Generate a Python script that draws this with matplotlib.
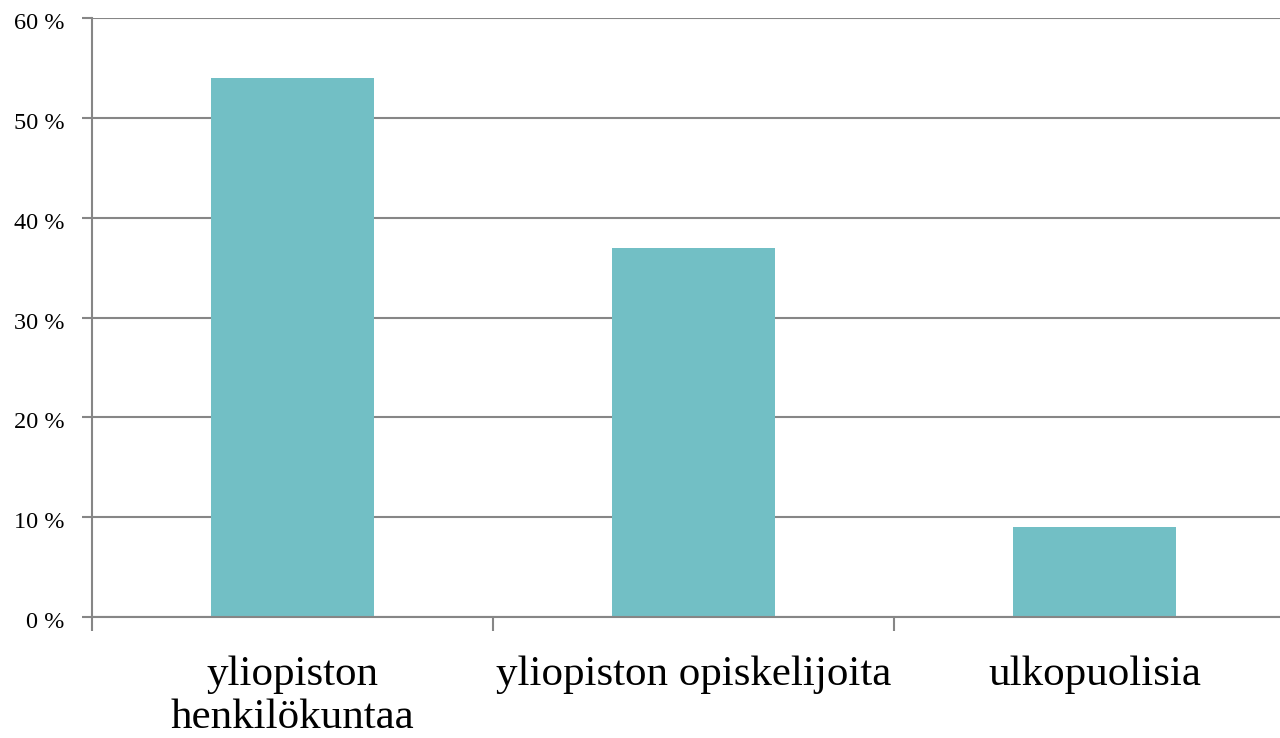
import matplotlib
matplotlib.use("Agg")
import matplotlib.pyplot as plt
from matplotlib.ticker import FixedLocator, NullFormatter
from matplotlib.transforms import ScaledTranslation

categories = ["yliopiston\nhenkilökuntaa", "yliopiston opiskelijoita", "ulkopuolisia"]
values = [54, 37, 9]
y_ticks = [0, 10, 20, 30, 40, 50, 60]
y_labels = ["0 %", "10 %", "20 %", "30 %", "40 %", "50 %", "60 %"]

BAR_COLOR = "#72BFC5"
GRID_COLOR = "#868686"

plt.rcParams["font.family"] = ["Liberation Serif", "DejaVu Serif"]

fig = plt.figure(figsize=(12.8, 7.38), dpi=100)
ax = fig.add_axes([92 / 1280, 1 - 617 / 738, (1295 - 92) / 1280, (617 - 18) / 738])

x = list(range(len(categories)))
ax.bar(x, values, width=0.404, color=BAR_COLOR, zorder=2)

ax.set_xlim(-0.5, len(categories) - 0.5)
ax.set_ylim(0, 60)

ax.set_yticks(y_ticks)
ax.set_yticklabels(y_labels, fontsize=17.5)
ax.yaxis.grid(True, color=GRID_COLOR, linewidth=1.5, zorder=0)
ax.tick_params(axis="y", length=7, width=1.5, color=GRID_COLOR, pad=13)
# labels sit a touch below their gridline in the original
shift = ScaledTranslation(0, -3 / 100, fig.dpi_scale_trans)
for lbl in ax.get_yticklabels():
    lbl.set_transform(lbl.get_transform() + shift)

# category boundaries carry the tick marks, labels sit in between
ax.xaxis.set_major_locator(FixedLocator([i - 0.5 for i in range(len(categories) + 1)]))
ax.xaxis.set_major_formatter(NullFormatter())
ax.xaxis.set_minor_locator(FixedLocator(x))
ax.set_xticklabels(categories, minor=True, fontsize=31, linespacing=1.15)
ax.tick_params(axis="x", which="major", length=10, width=1.5, color=GRID_COLOR)
ax.tick_params(axis="x", which="minor", length=0, pad=28)

for side in ["top", "right"]:
    ax.spines[side].set_visible(False)
for side in ["left", "bottom"]:
    ax.spines[side].set_color(GRID_COLOR)
    ax.spines[side].set_linewidth(1.5)

fig.savefig("out.png", dpi=100, facecolor="white")
